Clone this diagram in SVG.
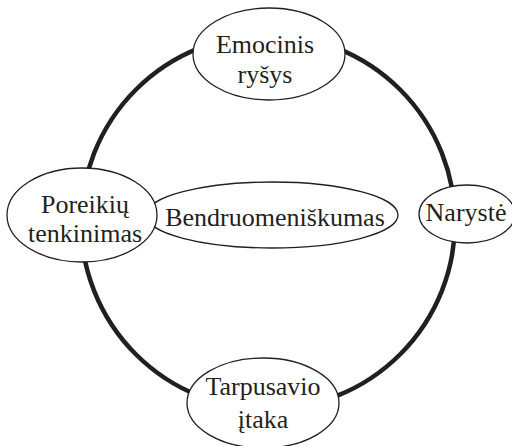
<svg xmlns="http://www.w3.org/2000/svg" width="512" height="446" viewBox="0 0 512 446">
  <style>
    .node { fill: #ffffff; stroke: #231f20; stroke-width: 1.3; }
    .ring { fill: none; stroke: #231f20; stroke-width: 4.5; }
    .label { font-family: "Liberation Serif", "DejaVu Serif", serif; font-size: 26px; fill: #231f20; text-anchor: middle; }
  </style>
  <rect width="512" height="446" fill="#ffffff"/>
  <g id="connectors">
    <circle class="ring" cx="268" cy="222" r="187"/>
  </g>
  <g id="node-bendruomeniskumas">
    <ellipse class="node" cx="272" cy="215" rx="126" ry="33"/>
    <text class="label" x="275" y="226">Bendruomeniškumas</text>
  </g>
  <g id="node-emocinis">
    <ellipse class="node" cx="269" cy="54" rx="76" ry="46"/>
    <text class="label" x="265" y="53">Emocinis</text>
    <text class="label" x="265" y="83">ryšys</text>
  </g>
  <g id="node-poreikiu">
    <ellipse class="node" cx="82" cy="215" rx="75" ry="47"/>
    <text class="label" x="85" y="213">Poreikių</text>
    <text class="label" x="85" y="242">tenkinimas</text>
  </g>
  <g id="node-naryste">
    <ellipse class="node" cx="467" cy="214" rx="48" ry="29"/>
    <text class="label" x="466" y="221">Narystė</text>
  </g>
  <g id="node-tarpusavio">
    <ellipse class="node" cx="263" cy="403" rx="76" ry="45"/>
    <text class="label" x="263" y="395">Tarpusavio</text>
    <text class="label" x="263" y="428">įtaka</text>
  </g>
</svg>
